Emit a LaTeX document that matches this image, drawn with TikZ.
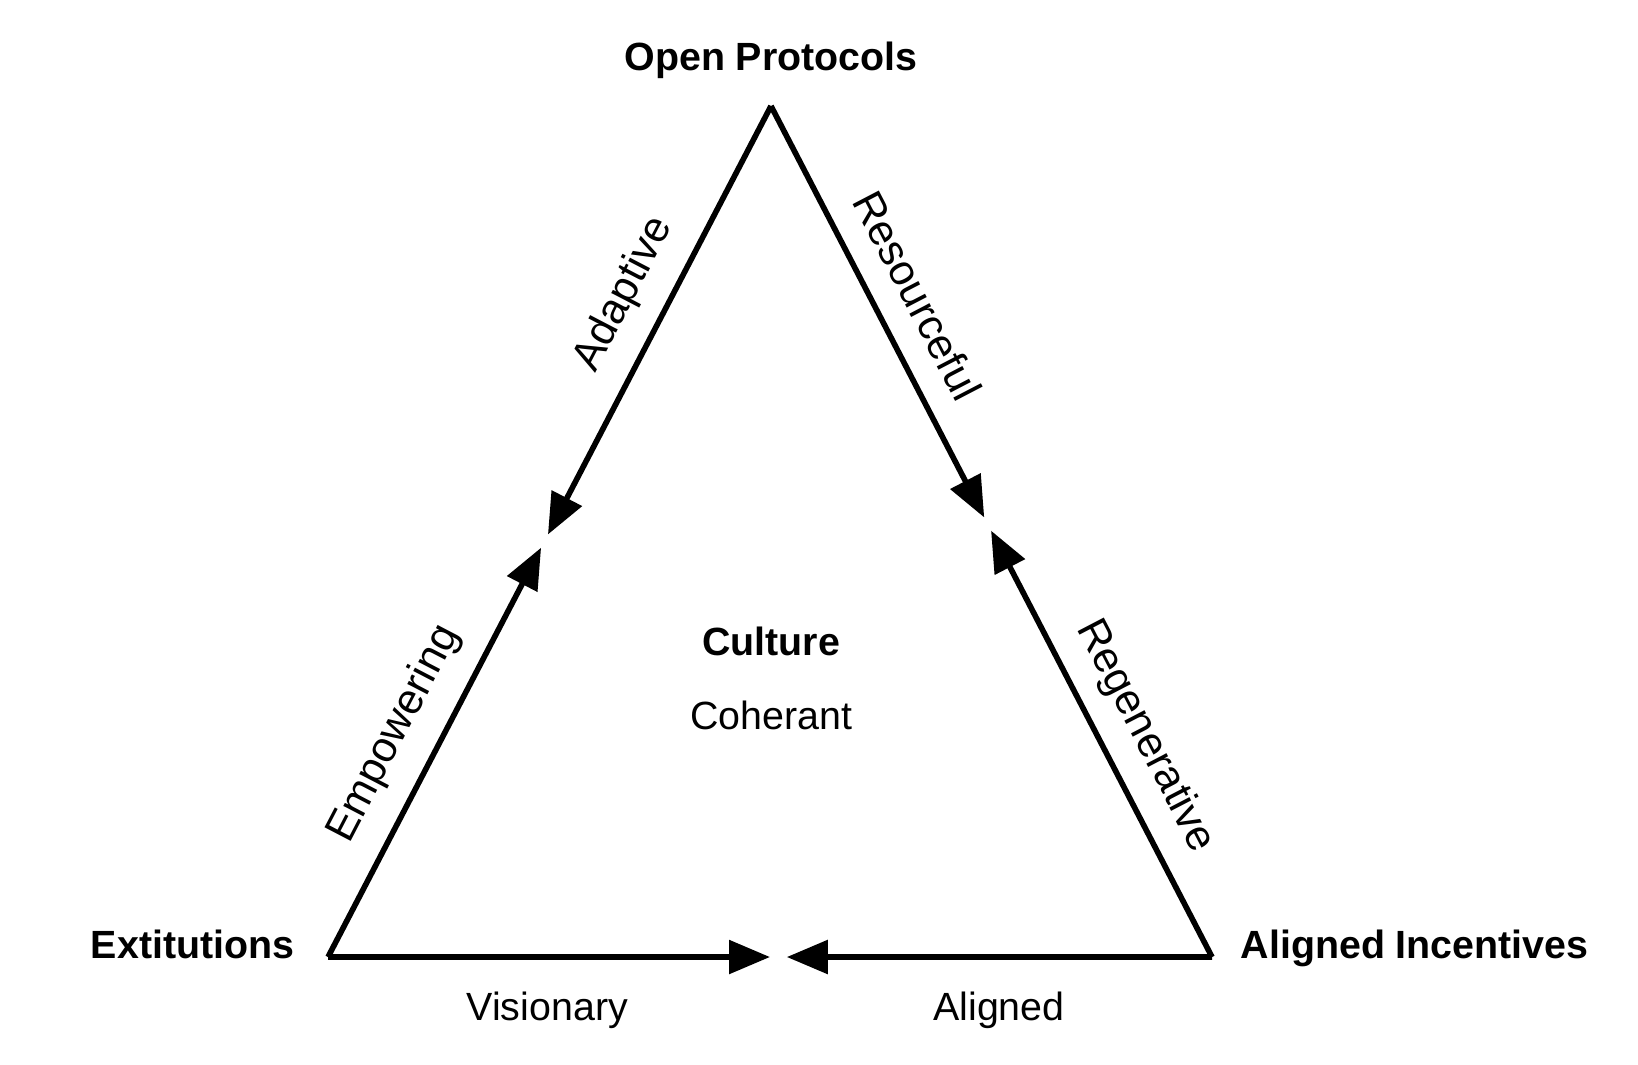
\documentclass[tikz,border=0pt]{standalone}
\usepackage{fontspec}
\setmainfont{Liberation Sans}
\usetikzlibrary{arrows.meta,positioning,calc}

\begin{document}
\begin{tikzpicture}[
    side/.style={line width=1.6pt, -{Triangle[length=4.1mm,width=3.3mm]}},
    corner/.style={font=\fontsize{11.2}{13}\selectfont\bfseries, inner sep=0pt},
    word/.style={font=\fontsize{11.2}{13}\selectfont, inner sep=0pt},
    slant/.style={font=\fontsize{12.2}{14}\selectfont, inner sep=0pt}
]
    \useasboundingbox (0,0) rectangle (16.38,10.64);
    \coordinate (op) at (7.71,9.58);
    \coordinate (ext) at (3.28,1.07);
    \coordinate (ai) at (12.12,1.07);

    \coordinate (l1) at ($(op)!0.5035!(ext)$);
    \coordinate (l2) at ($(ext)!0.481!(op)$);
    \coordinate (r1) at ($(op)!0.4835!(ai)$);
    \coordinate (r2) at ($(ai)!0.501!(op)$);
    \coordinate (b1) at ($(ext)!0.5!(ai)$);
    \coordinate (b2) at ($(ai)!0.481!(ext)$);

    \draw[side] (op) -- (l1);
    \draw[side] (ext) -- (l2);
    \draw[side] (op) -- (r1);
    \draw[side] (ai) -- (r2);
    \draw[side] (ext) -- (b1);
    \draw[side] (ai) -- (b2);

    \node[corner, anchor=base] (optxt) at ($(op)+(0,0.36)$) {Open Protocols};
    \node[corner, anchor=base east] (exttxt) at ($(ext)+(-0.33,-0.01)$) {Extitutions};
    \node[corner, anchor=base west] (aitxt) at ($(ai)+(0.28,-0.01)$) {Aligned Incentives};

    \node[corner, anchor=base] (cult) at (7.71,4.09) {Culture};
    \node[word, anchor=base] (coh) at (7.71,3.35) {Coherant};

    \node[slant, rotate=62.5] (adap) at ($(ext)!0.755!(op)!0.43cm!90:(op)$) {Adaptive};
    \node[slant, rotate=62.5] (empw) at ($(ext)!0.238!(op)!0.44cm!90:(op)$) {Empowering};
    \node[slant, rotate=-62.5] (resf) at ($(ai)!0.754!(op)!0.43cm!-90:(op)$) {Resourceful};
    \node[slant, rotate=-62.5] (regn) at ($(ai)!0.237!(op)!0.42cm!-90:(op)$) {Regenerative};

    \node[word, anchor=base] (vis) at ($(ext)!0.248!(ai)+(0,-0.63)$) {Visionary};
    \node[word, anchor=base] (alg) at ($(ai)!0.241!(ext)+(0,-0.63)$) {Aligned};
\end{tikzpicture}
\end{document}
